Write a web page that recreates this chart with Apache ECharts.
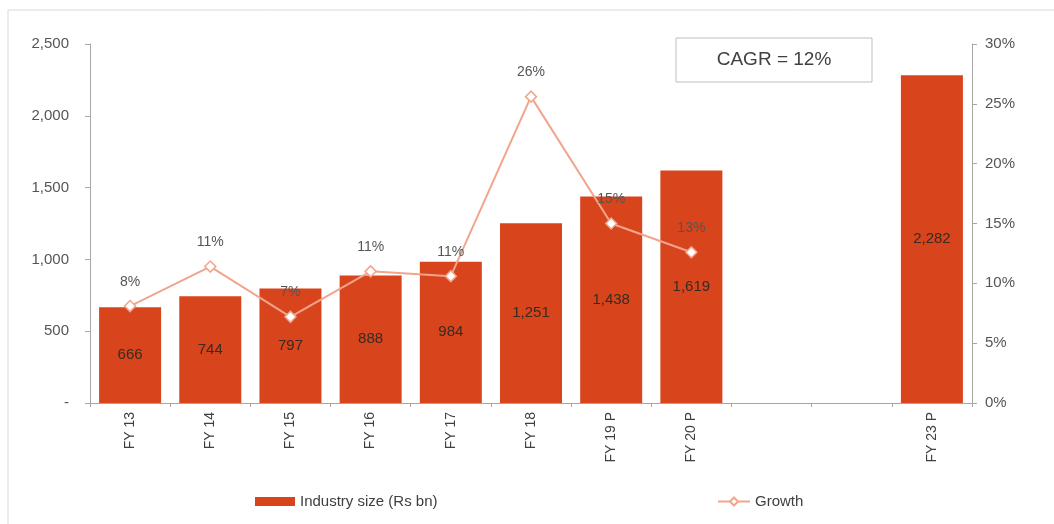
<!DOCTYPE html>
<html>
<head>
<meta charset="utf-8">
<script src="https://cdn.jsdelivr.net/npm/echarts@6/dist/echarts.min.js"></script>
<style>html,body{margin:0;padding:0;background:#fff}#c{width:1054px;height:524px}</style>
</head>
<body>
<div id="c"></div>
<script>
var categories = ['FY 13','FY 14','FY 15','FY 16','FY 17','FY 18','FY 19 P','FY 20 P','','','FY 23 P'];
var industrySize = [666,744,797,888,984,1251,1438,1619,null,null,2282];
var growth = [8.1,11.4,7.2,11.0,10.6,25.6,15.0,12.6,null,null,null];
var leftTicks = {min:0,max:2500,interval:500};
var rightTicks = {min:0,max:30,interval:5};

var FONT = 'Liberation Sans, Arial, sans-serif';
var BAR = '#d8441c';
var LINE = '#f2a58c';
var AX = '#a6a6a6';
var TXT = '#555555';

var chart = echarts.init(document.getElementById('c'), null, {renderer:'canvas'});
chart.setOption({
  animation:false,
  backgroundColor:'#fff',
  textStyle:{fontFamily:FONT},
  grid:{left:90,right:82,top:44,bottom:121},
  graphic:[
    {type:'polyline',shape:{points:[[8,600],[8,10],[1100,10]]},style:{stroke:'#d9d9d9',lineWidth:1,fill:null},silent:true},
    {type:'rect',shape:{x:676,y:38,width:196,height:44},style:{fill:'#fff',stroke:'#bfbfbf',lineWidth:1},z:10},
    {type:'text',x:774,y:60,style:{text:'CAGR = 12%',font:'19px '+FONT,fill:'#404040',textAlign:'center',textVerticalAlign:'middle'},z:11}
  ],
  legend:[
    {data:[{name:'Industry size (Rs bn)',icon:'rect'}],left:250,top:489,itemWidth:40,itemHeight:9,itemGap:6,textStyle:{fontSize:15,color:'#404040',fontFamily:FONT}},
    {data:['Growth'],left:712,top:489,itemWidth:32,itemHeight:10,textStyle:{fontSize:15,color:'#404040',fontFamily:FONT}}
  ],
  xAxis:{
    type:'category',data:categories,
    axisLine:{lineStyle:{color:AX}},
    axisTick:{show:true,lineStyle:{color:AX},length:4},
    axisLabel:{rotate:90,interval:0,color:'#404040',fontSize:14,margin:9,fontFamily:FONT}
  },
  yAxis:[
    {type:'value',min:leftTicks.min,max:leftTicks.max,interval:leftTicks.interval,
     axisLine:{show:true,lineStyle:{color:AX}},axisTick:{show:true,lineStyle:{color:AX},length:5},
     splitLine:{show:false},
     axisLabel:{color:TXT,fontSize:15,margin:21,fontFamily:FONT,formatter:function(v){return v===0?'-':v.toLocaleString('en-US');}}},
    {type:'value',min:rightTicks.min,max:rightTicks.max,interval:rightTicks.interval,
     axisLine:{show:true,lineStyle:{color:AX}},axisTick:{show:true,lineStyle:{color:AX},length:5},
     splitLine:{show:false},
     axisLabel:{color:TXT,fontSize:15,margin:13,fontFamily:FONT,formatter:'{value}%'}}
  ],
  series:[
    {name:'Industry size (Rs bn)',type:'bar',data:industrySize,barWidth:62,
     itemStyle:{color:BAR},
     label:{show:true,position:'inside',color:'#3a2a20',fontSize:15,fontFamily:FONT,
       formatter:function(p){return p.value==null?'':p.value.toLocaleString('en-US');}}},
    {name:'Growth',type:'line',yAxisIndex:1,data:growth,connectNulls:false,
     lineStyle:{color:LINE,width:2},itemStyle:{color:'#fff',borderColor:LINE,borderWidth:1.5},
     symbol:'diamond',symbolSize:11,showAllSymbol:true,
     label:{show:true,position:'top',distance:11,color:TXT,fontSize:14,fontFamily:FONT,
       formatter:function(p){return Math.round(p.value)+'%';}}, z:5}
  ]
});
</script>
</body>
</html>
